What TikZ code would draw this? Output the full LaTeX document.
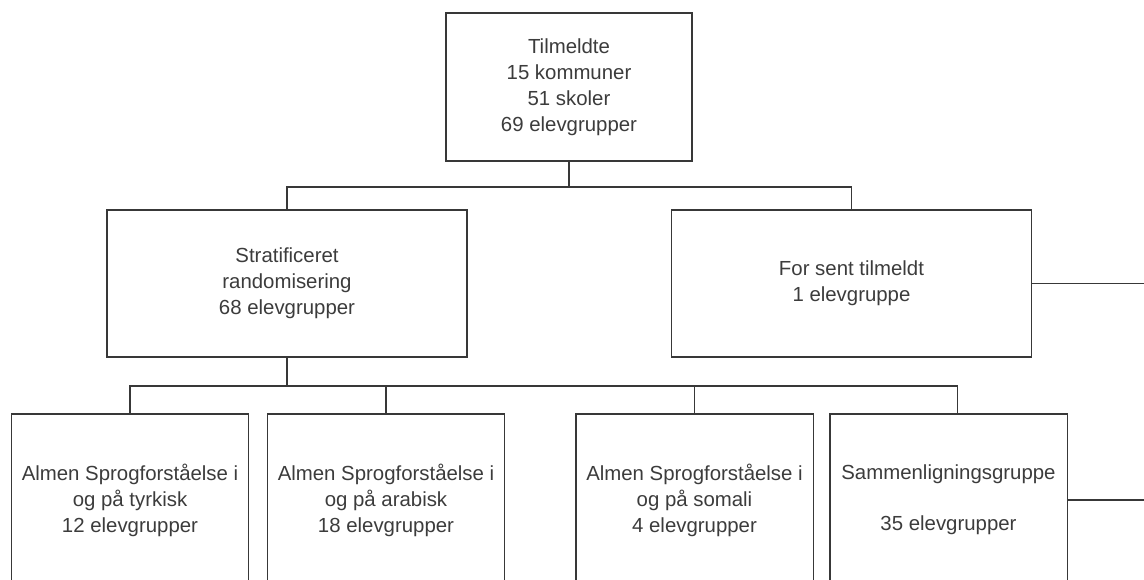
\documentclass[tikz,border=0pt]{standalone}
\usepackage{fontspec}
\setmainfont{Liberation Sans}
\usepackage{xcolor}
\usetikzlibrary{positioning}
\definecolor{clinje}{HTML}{383838}
\definecolor{ctekst}{HTML}{3C3C3C}
\tikzset{
  boks/.style={rectangle, draw=clinje, line width=0.9pt, fill=white,
    align=center, text=ctekst, font=\fontsize{14.5}{18.5}\selectfont,
    inner sep=0pt},
  topboks/.style={boks, minimum width=6.15cm, minimum height=3.7cm},
  mellemboks/.style={boks, minimum width=9cm, minimum height=3.68cm},
  bundboks/.style={boks, minimum width=5.93cm, minimum height=4.3cm},
  linje/.style={draw=clinje, line width=0.9pt},
}
\begin{document}
\begin{tikzpicture}[x=0.025cm, y=-0.025cm]
  \clip (0,0) rectangle (1144,579);
  \fill[white] (0,0) rectangle (1144,579);
  % top
  \node[topboks] (tilm) at (569,87) {Tilmeldte\\15 kommuner\\51 skoler\\69 elevgrupper};
  % andet niveau
  \node[mellemboks] (strat) at (287,283.5) {Stratificeret\\randomisering\\68 elevgrupper};
  \node[mellemboks] (sent) at (851.5,283.5) {For sent tilmeldt\\1 elevgruppe};
  % grupper
  \node[bundboks] (tyrk) at (130,500) {Almen Sprogforståelse i\\og på tyrkisk\\12 elevgrupper};
  \node[bundboks] (arab) at (386,500) {Almen Sprogforståelse i\\og på arabisk\\18 elevgrupper};
  \node[bundboks] (soma) at (694.5,500) {Almen Sprogforståelse i\\og på somali\\4 elevgrupper};
  \node[bundboks] (samm) at (948.5,500) {Sammenligningsgruppe\\[18pt]35 elevgrupper};
  \coordinate (gren1) at (569,187);
  \coordinate (gren2) at (287,386);
  \coordinate (sentud) at (1144,283.5);
  \coordinate (sammud) at (1144,500);
  \draw[linje] (tilm) -- (gren1);
  \draw[linje] (gren1) -| (strat);
  \draw[linje] (gren1) -| (sent.north);
  \draw[linje] (sent) -- (sentud);
  \draw[linje] (strat) -- (gren2);
  \draw[linje] (gren2) -| (tyrk);
  \draw[linje] (gren2) -| (arab);
  \draw[linje] (gren2) -| (soma);
  \draw[linje] (gren2) -| ([xshift=0.225cm]samm.north);
  \draw[linje] (samm) -- (sammud);
\end{tikzpicture}
\end{document}
